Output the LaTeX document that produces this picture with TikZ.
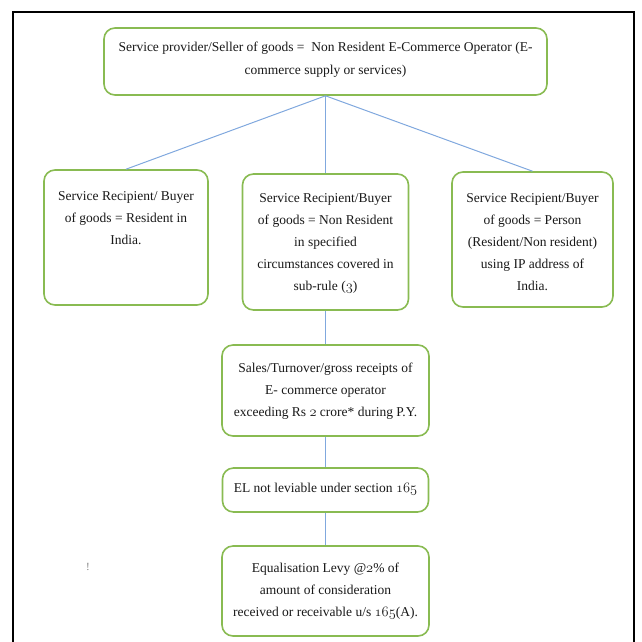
\documentclass[tikz,border=0pt]{standalone}
\usepackage{fontspec}
\setmainfont{Liberation Serif}
\definecolor{boxgreen}{RGB}{137,187,82}
\definecolor{linkblue}{RGB}{128,168,222}
\newcommand{\osn}[1]{$\mathnormal{#1}$}
\begin{document}
\begin{tikzpicture}[x=1pt,y=-1pt,
  box/.style={draw=boxgreen, line width=1.6pt, rounded corners=11pt, fill=white, inner sep=0pt},
  link/.style={draw=linkblue, line width=1pt},
  txt/.style={align=center, font=\fontsize{13.5}{22}\selectfont, inner sep=0pt, anchor=north, text=black!90}]
\useasboundingbox (0,0) rectangle (642,641);
\draw[line width=1.5pt] (13,660) -- (13,12) -- (634,12) -- (634,660);
% boxes
\node[box, minimum width=443pt, minimum height=67pt] (top) at (325.5,61.5) {};
\node[box, minimum width=164pt, minimum height=135pt] (left) at (126,237.5) {};
\node[box, minimum width=166pt, minimum height=136pt] (mid) at (325.5,242) {};
\node[box, minimum width=161pt, minimum height=135pt] (right) at (532.5,239.5) {};
\node[box, minimum width=207pt, minimum height=91pt] (sales) at (325.5,390.5) {};
\node[box, minimum width=206pt, minimum height=44pt] (el) at (325.5,490) {};
\node[box, minimum width=207pt, minimum height=90pt] (levy) at (325.5,591) {};
% connectors
\draw[link] (top.south) -- (left.north);
\draw[link] (top.south) -- (mid.north);
\draw[link] (top.south) -- (right.north);
\draw[link] (mid.south) -- (sales.north);
\draw[link] (sales.south) -- (el.north);
\draw[link] (el.south) -- (levy.north);
% texts
\node[txt, font=\fontsize{13.5}{22.5}\selectfont] (toptxt) at (325.5,42) {Service provider/Seller of goods =\ \ Non Resident E-Commerce Operator (E-\\commerce supply or services)};
\node[txt] (lefttxt) at (126,191) {Service Recipient/ Buyer\\of goods = Resident in\\India.};
\node[txt] (midtxt) at (325.5,193) {Service Recipient/Buyer\\of goods = Non Resident\\in specified\\circumstances covered in\\sub-rule (\osn{3})};
\node[txt] (righttxt) at (532.5,193) {Service Recipient/Buyer\\of goods = Person\\(Resident/Non resident)\\using IP address of\\India.};
\node[txt] (salestxt) at (325.5,362.5) {Sales/Turnover/gross receipts of\\E- commerce operator\\exceeding Rs \osn{2} crore* during P.Y.};
\node[txt] (eltxt) at (325.5,483) {EL not leviable under section \osn{165}};
\node[txt] (levytxt) at (325.5,563) {Equalisation Levy @\osn{2}\% of\\amount of consideration\\received or receivable u/s \osn{165}(A).};
\node[text=black!50, font=\fontsize{11}{11}\selectfont, inner sep=0pt] (mark) at (88,567) {!};
\end{tikzpicture}
\end{document}
